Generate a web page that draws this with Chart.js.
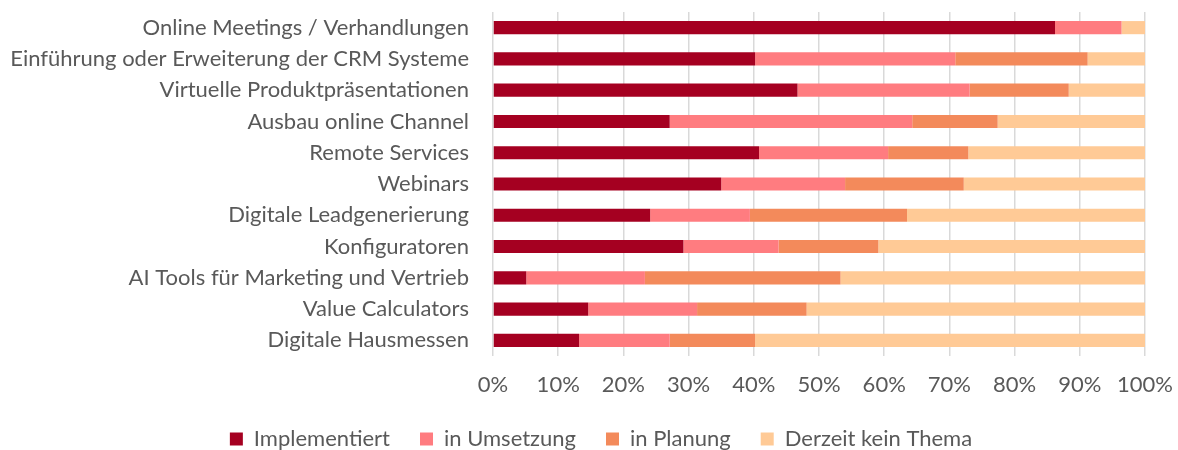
<!DOCTYPE html>
<html>
<head>
<meta charset="utf-8">
<script src="https://cdn.jsdelivr.net/npm/chart.js@4/dist/chart.umd.min.js"></script>
<style>
  html, body { margin: 0; padding: 0; background: #fff; }
  #wrap { width: 1178px; height: 450px; }
</style>
</head>
<body>
<div id="wrap"><canvas id="chart"></canvas></div>
<script>
// Categories (top to bottom)
const categories = [
  'Online Meetings / Verhandlungen',
  'Einführung oder Erweiterung der CRM Systeme',
  'Virtuelle Produktpräsentationen',
  'Ausbau online Channel',
  'Remote Services',
  'Webinars',
  'Digitale Leadgenerierung',
  'Konfiguratoren',
  'AI Tools für Marketing und Vertrieb',
  'Value Calculators',
  'Digitale Hausmessen'
];

// Shares in percent
const implementiert = [86.2, 40.2, 46.7, 27.1, 40.8, 35.0, 24.1, 29.2, 5.1, 14.6, 13.2];
const inUmsetzung   = [10.2, 30.7, 26.4, 37.2, 19.8, 19.0, 15.3, 14.6, 18.2, 16.7, 13.9];
const inPlanung     = [0.0, 20.3, 15.2, 13.1, 12.3, 18.2, 24.1, 15.3, 30.0, 16.8, 13.1];
const keinThema     = [3.6, 8.8, 11.7, 22.6, 27.1, 27.8, 36.5, 40.9, 46.7, 51.9, 59.8];

const seriesNames = ['Implementiert', 'in Umsetzung', 'in Planung', 'Derzeit kein Thema'];
const seriesColors = ['#A50021', '#FF7C80', '#F38A5B', '#FFCA96'];

const font = { family: 'Lato, "Open Sans", sans-serif', size: 22 };
const textColor = '#595959';

const datasets = [implementiert, inUmsetzung, inPlanung, keinThema].map((data, i) => ({
  label: seriesNames[i],
  data,
  backgroundColor: seriesColors[i],
  borderWidth: 0,
  categoryPercentage: 1,
  barPercentage: 0.42
}));

// Legend box: keep the wide item spacing but a shorter block,
// and nudge it a little to the right like the original
const legendTweak = {
  id: 'legendTweak',
  afterInit(chart) {
    const legend = chart.legend;
    const fit = legend.fit;
    legend.fit = function () {
      fit.call(this);
      this.height = 52;
    };
  },
  afterLayout(chart) {
    chart.legend.left += 12;
    chart.legend.right += 12;
  }
};

new Chart(document.getElementById('chart').getContext('2d'), {
  type: 'bar',
  data: { labels: categories, datasets },
  plugins: [legendTweak],
  options: {
    indexAxis: 'y',
    responsive: true,
    maintainAspectRatio: false,
    animation: false,
    layout: { padding: { top: 12, right: 0, left: 0, bottom: 0 } },
    scales: {
      x: {
        stacked: true,
        min: 0,
        max: 100,
        ticks: {
          stepSize: 10,
          color: textColor,
          font,
          padding: 16,
          callback: v => v + '%'
        },
        grid: { color: '#D9D9D9', lineWidth: 1.5, drawTicks: false },
        border: { display: false },
        afterFit: scale => {
          scale.height = 42;
          scale.paddingLeft = 0;
          scale.paddingRight = 33;
        }
      },
      y: {
        stacked: true,
        ticks: { color: textColor, font, padding: 16, autoSkip: false },
        grid: { display: false },
        border: { display: false },
        afterFit: scale => {
          scale.width = 493;
          scale.paddingTop = 0;
          scale.paddingBottom = 0;
        }
      }
    },
    plugins: {
      legend: {
        position: 'bottom',
        labels: {
          color: textColor,
          font,
          boxWidth: 13,
          boxHeight: 13,
          padding: 30
        }
      },
      tooltip: { enabled: false }
    }
  }
});
</script>
</body>
</html>
